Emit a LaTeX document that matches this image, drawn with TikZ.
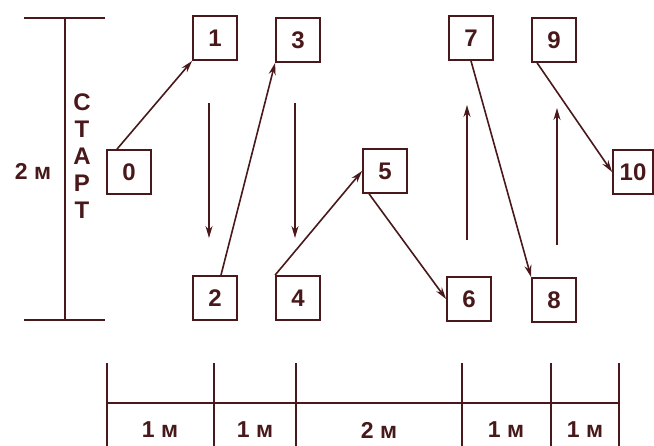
\documentclass[tikz,border=0pt]{standalone}
\usepackage{fontspec}
\setmainfont{Liberation Sans}
\usepackage{tikz}
\usetikzlibrary{arrows.meta}
\definecolor{ink}{RGB}{72,24,26}

\begin{document}
\begin{tikzpicture}[x=1pt, y=-1pt, >={Stealth[length=12pt, width=7pt]}, ink,
    cone/.style={draw=ink, line width=1.8pt, minimum size=44pt, inner sep=0pt,
      font=\fontsize{24}{24}\selectfont\bfseries},
    run/.style={->, line width=1.6pt},
    rule/.style={line width=2pt},
    dist/.style={font=\fontsize{23}{23}\selectfont\bfseries}]

    \useasboundingbox (0,0) rectangle (654,445);

    % Start line, 2 m wide
    \draw[rule] (65,18) -- (65,320);
    \draw[rule] (24,18) -- (105,18);
    \draw[rule] (24,320) -- (105,320);
    \node[dist] (width) at (33,171) {2 м};
    \foreach \ch [count=\i] in {С,Т,А,Р,Т}
        \node[font=\fontsize{24}{24}\selectfont\bfseries] (start\i) at (82,75+27*\i) {\ch};

    % Cones
    \node[cone] (n0) at (129,172) {0};
    \node[cone] (n1) at (215,38) {1};
    \node[cone] (n2) at (215,298) {2};
    \node[cone] (n3) at (298,40) {3};
    \node[cone] (n4) at (298,298) {4};
    \node[cone] (n5) at (385,171) {5};
    \node[cone] (n6) at (469,299) {6};
    \node[cone] (n7) at (471,38) {7};
    \node[cone] (n8) at (554,300) {8};
    \node[cone] (n9) at (554,40) {9};
    \node[cone, minimum width=40pt] (n10) at (633,172) {10};

    % Running path
    \draw[run] ([xshift=-12pt]n0.north) -- (n1.south west);
    \draw[run] ([xshift=6pt]n2.north) -- (n3.south west);
    \draw[run] (n4.north west) -- (n5.west);
    \draw[run] ([xshift=7pt]n5.south west) -- (n6.west);
    \draw[run] (n7.south) -- (n8.north west);
    \draw[run] ([xshift=6pt]n9.south west) -- (n10.west);

    % Direction hints
    \foreach \x/\ya/\yb in {209/103/238, 295/103/238, 467/240/105, 557/245/108}
        \draw[run] (\x,\ya) -- (\x,\yb);

    % Distances between cones
    \draw[rule] (107,403) -- (619,403);
    \foreach \x in {107,214,296,462,551,619}
        \draw[rule] (\x,363) -- (\x,446);
    \node[dist] (d1) at (160,430) {1 м};
    \node[dist] (d2) at (255,430) {1 м};
    \node[dist] (d3) at (379,430) {2 м};
    \node[dist] (d4) at (506,430) {1 м};
    \node[dist] (d5) at (585,430) {1 м};

\end{tikzpicture}
\end{document}
